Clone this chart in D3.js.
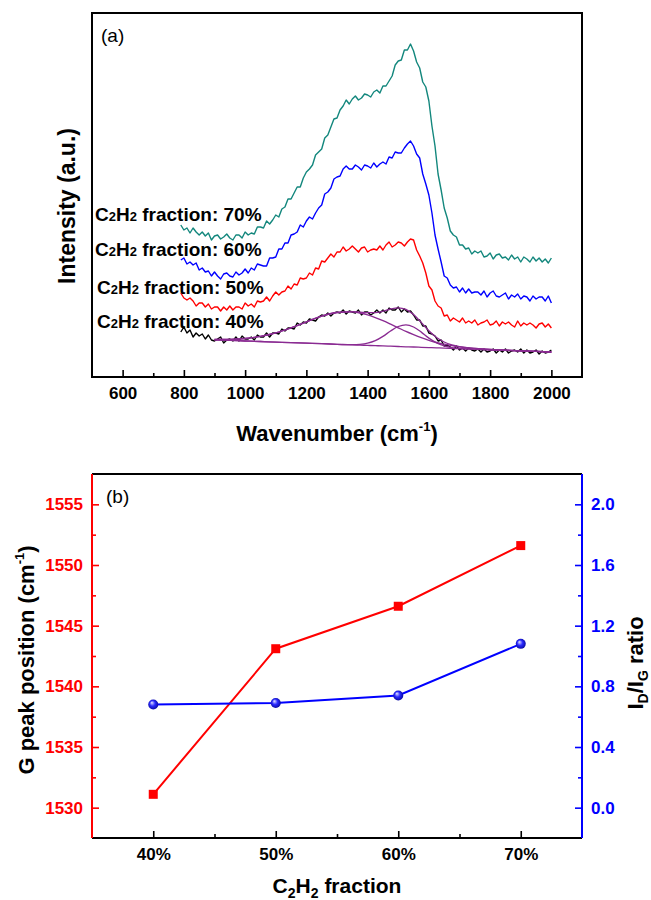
<!DOCTYPE html>
<html>
<head>
<meta charset="utf-8">
<script src="https://cdn.jsdelivr.net/npm/d3@7"></script>
<style>
  body { margin: 0; background: #fff; }
  svg { display: block; }
  text { font-family: "Liberation Sans", Arial, Helvetica, sans-serif; }
</style>
</head>
<body>
<svg id="chart" width="651" height="900"></svg>
<script>
// ---------- Panel (a): Raman spectra ----------
// spectra sampled every 10 cm-1 starting at 790 cm-1 (intensity in a.u.)
const ramanStart = 790;
const ramanStep = 10;
const spectrum70 = [152,147,149,144,149,145,142,145,141,144,137,141,142,138,140,143,139,137,142,142,139,145,142,144,143,150,150,149,156,153,157,162,160,168,170,178,178,184,190,190,199,205,208,212,222,225,228,239,242,250,258,259,267,271,277,273,278,281,277,279,283,282,280,285,287,284,291,291,296,301,312,316,317,327,327,333,326,315,309,295,290,276,251,231,203,187,169,159,146,142,140,132,132,128,129,123,126,124,126,120,121,124,118,122,123,119,120,117,122,118,120,115,120,118,115,120,116,119,115,118,114,119];
const spectrum60 = [117,119,113,115,112,114,107,109,105,106,101,105,101,98,103,104,101,100,105,102,104,108,104,109,107,113,112,111,111,119,119,120,128,128,134,134,142,143,145,152,150,156,160,158,164,169,172,183,185,189,198,200,201,208,211,208,208,212,210,207,212,211,209,214,210,213,215,213,220,219,225,224,224,229,233,236,231,223,219,203,193,182,164,142,128,115,101,99,92,89,90,85,89,84,88,84,85,85,82,86,80,84,86,81,80,82,84,78,82,80,83,78,81,80,76,81,78,80,80,76,81,74];
const spectrum50 = [84,79,77,79,76,71,74,74,70,73,68,70,70,66,70,67,71,67,70,70,68,74,71,73,70,76,75,76,80,76,81,85,82,85,86,91,88,93,92,99,98,99,104,102,109,108,116,115,119,123,120,125,125,130,126,128,131,128,125,129,130,125,127,128,127,131,127,132,135,130,132,135,134,131,135,138,137,127,121,114,104,91,87,76,71,69,61,62,56,59,57,55,59,54,56,54,57,52,54,55,57,52,53,56,51,55,53,55,52,50,56,51,54,52,54,52,49,53,54,50,53,49];
const spectrum40 = [45,50,44,47,40,44,41,43,38,42,37,36,38,40,34,37,38,36,40,36,41,38,38,40,37,42,40,40,44,40,44,44,43,48,46,49,49,48,54,52,55,54,58,57,56,60,62,61,64,61,64,65,64,67,63,66,65,64,67,62,65,65,62,64,67,64,67,64,69,67,67,70,65,68,65,66,62,57,57,51,51,44,43,41,36,37,31,32,30,27,31,27,29,26,29,27,26,28,25,28,25,26,28,24,27,25,28,24,26,27,25,28,24,27,24,25,27,23,26,24,25,27];
const spectrumLabels = ["70%", "60%", "50%", "40%"];
const spectrumColors = ["#13877d", "#0000ff", "#ff0000", "#000000"];

// peak fit of the 40% spectrum: linear background, D band, G band and their sum
const fitWavenumbers = [900,950,1000,1050,1100,1150,1200,1250,1300,1350,1375,1400,1425,1450,1475,1500,1525,1550,1575,1600,1625,1650,1675,1700,1750,1800,1850,1900,1950,2000];
const fitBaseline = [37.1,36.6,36.0,35.5,34.9,34.4,33.8,33.3,32.7,32.2,31.9,31.6,31.3,31.1,30.8,30.5,30.2,30.0,29.7,29.4,29.1,28.9,28.6,28.3,27.8,27.2,26.7,26.1,25.6,25.0];
const fitDBand = [37.5,37.7,38.5,40.6,44.1,49.2,55.1,60.9,64.5,65.1,64.0,62.1,59.4,56.3,52.8,49.2,45.6,42.4,39.4,36.7,34.5,32.8,31.3,30.1,28.6,27.5,26.8,26.1,25.6,25.0];
const fitGBand = [37.1,36.6,36.0,35.5,34.9,34.4,33.8,33.3,32.7,32.4,32.7,33.8,36.3,40.6,46.0,50.5,52.2,50.0,44.9,38.9,34.1,31.1,29.4,28.5,27.8,27.2,26.7,26.1,25.6,25.0];
const fitSum = [37.5,37.7,38.5,40.6,44.1,49.2,55.1,60.9,64.5,65.3,64.8,64.3,64.4,65.8,68.0,69.2,67.6,62.4,54.6,46.2,39.5,35.0,32.1,30.3,28.6,27.5,26.8,26.1,25.6,25.0];

const wavenumberMajorTicks = [600, 800, 1000, 1200, 1400, 1600, 1800, 2000];
const wavenumberMinorTicks = [700, 900, 1100, 1300, 1500, 1700, 1900];

// ---------- Panel (b): G peak position and ID/IG ratio ----------
const fractions = [40, 50, 60, 70];
const fractionLabels = ["40%", "50%", "60%", "70%"];
const gPeakPosition = [1531.1, 1543.1, 1546.6, 1551.6];
const idIgRatio = [0.68, 0.69, 0.74, 1.08];
const gPeakTicks = [1530, 1535, 1540, 1545, 1550, 1555];
const gPeakMinorTicks = [1532.5, 1537.5, 1542.5, 1547.5, 1552.5];
const ratioTicks = [0.0, 0.4, 0.8, 1.2, 1.6, 2.0];
const ratioMinorTicks = [0.2, 0.6, 1.0, 1.4, 1.8];
const fractionMinorTicks = [45, 55, 65];

const svg = d3.select("#chart");
const FONT = "'Liberation Sans', Arial, Helvetica, sans-serif";
const TICK_PX = 17;

function styleAxis(g, color, sizePx) {
  g.select(".domain").remove();
  g.selectAll(".tick line").attr("stroke", color).attr("stroke-width", 1.6);
  g.selectAll(".tick text")
    .attr("fill", color)
    .style("font-family", FONT)
    .style("font-weight", "bold")
    .style("font-size", sizePx + "px");
}

// ================= Panel (a) =================
const a = { left: 92, right: 582, top: 13, bottom: 377 };
const xA = d3.scaleLinear().domain([500, 2100]).range([a.left, a.right]);
const yA = d3.scaleLinear().domain([0, 364]).range([a.bottom, a.top]);

const gA = svg.append("g");

const spectra = [spectrum70, spectrum60, spectrum50, spectrum40];
const lineA = d3.line()
  .x((d, i) => xA(ramanStart + i * ramanStep))
  .y(d => yA(d));

spectra.forEach((s, k) => {
  gA.append("path")
    .datum(s)
    .attr("d", lineA)
    .attr("fill", "none")
    .attr("stroke", spectrumColors[k])
    .attr("stroke-width", 1.4)
    .attr("stroke-linejoin", "round");
});

// fitted components
const fitLine = d3.line()
  .x((d, i) => xA(fitWavenumbers[i]))
  .y(d => yA(d))
  .curve(d3.curveMonotoneX);
[fitBaseline, fitDBand, fitGBand, fitSum].forEach(f => {
  gA.append("path")
    .datum(f)
    .attr("d", fitLine)
    .attr("fill", "none")
    .attr("stroke", "#8a2b92")
    .attr("stroke-width", 1.3);
});

// spectrum labels with small inline subscripts
const labelPos = [[95, 221], [95, 256], [97, 294], [97, 328]];
spectrumLabels.forEach((lab, k) => {
  const t = gA.append("text")
    .attr("x", labelPos[k][0]).attr("y", labelPos[k][1])
    .style("font-weight", "bold").style("font-size", "19px").attr("fill", "#000");
  t.append("tspan").text("C");
  t.append("tspan").text("2").style("font-size", "13px");
  t.append("tspan").text("H");
  t.append("tspan").text("2").style("font-size", "13px");
  t.append("tspan").text(" fraction: " + lab);
});

// x axis ticks (inward)
const axA = gA.append("g").attr("transform", `translate(0,${a.bottom})`)
  .call(d3.axisBottom(xA).tickValues(wavenumberMajorTicks).tickSize(-7).tickPadding(10).tickFormat(d3.format("d")));
styleAxis(axA, "#000", TICK_PX);
const axAminor = gA.append("g").attr("transform", `translate(0,${a.bottom})`)
  .call(d3.axisBottom(xA).tickValues(wavenumberMinorTicks).tickSize(-4).tickFormat(""));
styleAxis(axAminor, "#000", TICK_PX);

// frame
gA.append("rect")
  .attr("x", a.left).attr("y", a.top)
  .attr("width", a.right - a.left).attr("height", a.bottom - a.top)
  .attr("fill", "none").attr("stroke", "#000").attr("stroke-width", 2);

gA.append("text").attr("x", 101).attr("y", 42)
  .style("font-size", "19px").attr("fill", "#000").text("(a)");

// axis titles
const xtA = gA.append("text")
  .attr("x", (a.left + a.right) / 2).attr("y", 441)
  .attr("text-anchor", "middle")
  .style("font-weight", "bold").style("font-size", "22px");
xtA.append("tspan").text("Wavenumber (cm");
xtA.append("tspan").text("-1").style("font-size", "13px").attr("dy", -10);
xtA.append("tspan").text(")").attr("dy", 10);

gA.append("text")
  .attr("transform", "translate(75,206) rotate(-90)")
  .attr("text-anchor", "middle")
  .style("font-weight", "bold").style("font-size", "23px")
  .text("Intensity (a.u.)");

// ================= Panel (b) =================
const b = { left: 92, right: 582, top: 474, bottom: 838 };
const xB = d3.scaleLinear().domain([35, 75]).range([b.left, b.right]);
const yL = d3.scaleLinear().domain([1527.5, 1557.5]).range([b.bottom, b.top]);
const yR = d3.scaleLinear().domain([-0.2, 2.2]).range([b.bottom, b.top]);

const gB = svg.append("g");

// bottom axis
const axB = gB.append("g").attr("transform", `translate(0,${b.bottom})`)
  .call(d3.axisBottom(xB).tickValues(fractions).tickSize(-7).tickPadding(10).tickFormat((d, i) => fractionLabels[i]));
styleAxis(axB, "#000", TICK_PX);
const axBminor = gB.append("g").attr("transform", `translate(0,${b.bottom})`)
  .call(d3.axisBottom(xB).tickValues(fractionMinorTicks).tickSize(-4).tickFormat(""));
styleAxis(axBminor, "#000", TICK_PX);

// left axis (red)
const axL = gB.append("g").attr("transform", `translate(${b.left},0)`)
  .call(d3.axisLeft(yL).tickValues(gPeakTicks).tickSize(-7).tickPadding(9).tickFormat(d3.format("d")));
styleAxis(axL, "#ff0000", TICK_PX);
const axLminor = gB.append("g").attr("transform", `translate(${b.left},0)`)
  .call(d3.axisLeft(yL).tickValues(gPeakMinorTicks).tickSize(-4).tickFormat(""));
styleAxis(axLminor, "#ff0000", TICK_PX);

// right axis (blue)
const axR = gB.append("g").attr("transform", `translate(${b.right},0)`)
  .call(d3.axisRight(yR).tickValues(ratioTicks).tickSize(-7).tickPadding(9).tickFormat(d3.format(".1f")));
styleAxis(axR, "#0000ff", TICK_PX);
const axRminor = gB.append("g").attr("transform", `translate(${b.right},0)`)
  .call(d3.axisRight(yR).tickValues(ratioMinorTicks).tickSize(-4).tickFormat(""));
styleAxis(axRminor, "#0000ff", TICK_PX);

// frame lines
gB.append("line").attr("x1", b.left).attr("x2", b.right).attr("y1", b.top).attr("y2", b.top)
  .attr("stroke", "#000").attr("stroke-width", 2);
gB.append("line").attr("x1", b.left).attr("x2", b.right).attr("y1", b.bottom).attr("y2", b.bottom)
  .attr("stroke", "#000").attr("stroke-width", 2);
gB.append("line").attr("x1", b.left).attr("x2", b.left).attr("y1", b.top).attr("y2", b.bottom)
  .attr("stroke", "#ff0000").attr("stroke-width", 2);
gB.append("line").attr("x1", b.right).attr("x2", b.right).attr("y1", b.top).attr("y2", b.bottom)
  .attr("stroke", "#0000ff").attr("stroke-width", 2);

// series lines
gB.append("path")
  .datum(gPeakPosition)
  .attr("d", d3.line().x((d, i) => xB(fractions[i])).y(d => yL(d)))
  .attr("fill", "none").attr("stroke", "#ff0000").attr("stroke-width", 2);
gB.append("path")
  .datum(idIgRatio)
  .attr("d", d3.line().x((d, i) => xB(fractions[i])).y(d => yR(d)))
  .attr("fill", "none").attr("stroke", "#0000ff").attr("stroke-width", 2);

// markers
gB.selectAll("rect.gpeak").data(gPeakPosition).enter().append("rect")
  .attr("class", "gpeak")
  .attr("x", (d, i) => xB(fractions[i]) - 4.5)
  .attr("y", d => yL(d) - 4.5)
  .attr("width", 9).attr("height", 9)
  .attr("fill", "#ff0000");

const defs = svg.append("defs");
const grad = defs.append("radialGradient").attr("id", "ballBlue")
  .attr("cx", "50%").attr("cy", "50%").attr("r", "60%")
  .attr("fx", "35%").attr("fy", "30%");
grad.append("stop").attr("offset", "0%").attr("stop-color", "#e8e8ff");
grad.append("stop").attr("offset", "45%").attr("stop-color", "#2a2aff");
grad.append("stop").attr("offset", "100%").attr("stop-color", "#00008a");

gB.selectAll("circle.ratio").data(idIgRatio).enter().append("circle")
  .attr("class", "ratio")
  .attr("cx", (d, i) => xB(fractions[i]))
  .attr("cy", d => yR(d))
  .attr("r", 5)
  .attr("fill", "url(#ballBlue)");

gB.append("text").attr("x", 106).attr("y", 503)
  .style("font-size", "19px").attr("fill", "#000").text("(b)");

// axis titles
const xtB = gB.append("text")
  .attr("x", (b.left + b.right) / 2).attr("y", 893)
  .attr("text-anchor", "middle")
  .style("font-weight", "bold").style("font-size", "21px");
xtB.append("tspan").text("C");
xtB.append("tspan").text("2").style("font-size", "14px").attr("dy", 5);
xtB.append("tspan").text("H").attr("dy", -5);
xtB.append("tspan").text("2").style("font-size", "14px").attr("dy", 5);
xtB.append("tspan").text(" fraction").attr("dy", -5);

const ytL = gB.append("text")
  .attr("transform", "translate(34,660) rotate(-90)")
  .attr("text-anchor", "middle")
  .style("font-weight", "bold").style("font-size", "22px");
ytL.append("tspan").text("G peak position (cm");
ytL.append("tspan").text("-1").style("font-size", "13px").attr("dy", -10);
ytL.append("tspan").text(")").attr("dy", 10);

const ytR = gB.append("text")
  .attr("transform", "translate(643,663) rotate(-90)")
  .attr("text-anchor", "middle")
  .style("font-weight", "bold").style("font-size", "22px");
ytR.append("tspan").text("I");
ytR.append("tspan").text("D").style("font-size", "14px").attr("dy", 5);
ytR.append("tspan").text("/I").attr("dy", -5);
ytR.append("tspan").text("G").style("font-size", "14px").attr("dy", 5);
ytR.append("tspan").text(" ratio").attr("dy", -5);
</script>
</body>
</html>
